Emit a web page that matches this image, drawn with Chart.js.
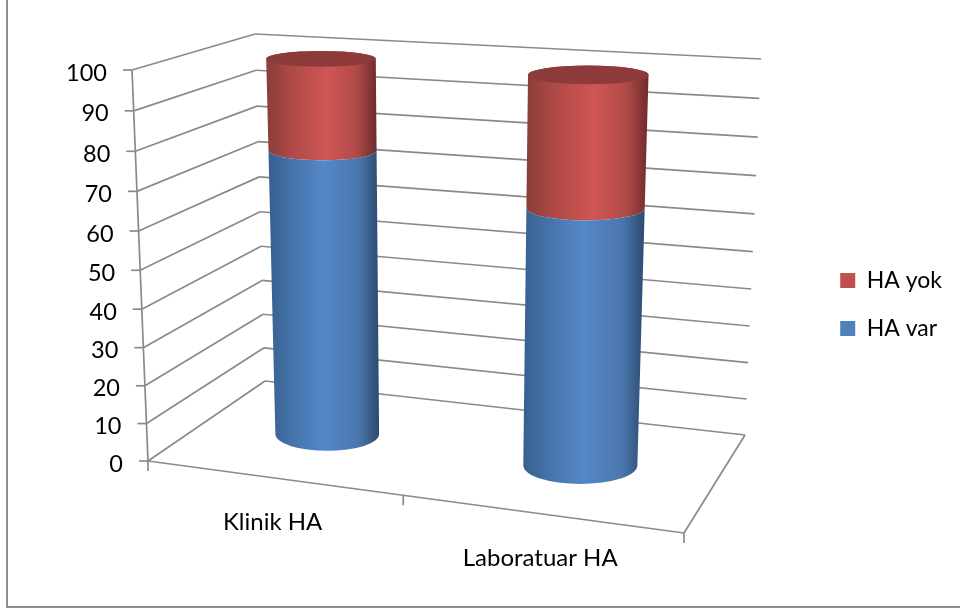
<!DOCTYPE html>
<html>
<head>
<meta charset="utf-8">
<style>
  html, body { margin: 0; padding: 0; background: #fff; }
  canvas { display: block; }
</style>
<script src="https://cdn.jsdelivr.net/npm/chart.js@4"></script>
</head>
<body>
<canvas id="haChart" width="960" height="612"></canvas>
<script>
const categories = ['Klinik HA', 'Laboratuar HA'];
const haVar = [76.5, 67];
const haYok = [23.5, 33];
const valueTicks = [0, 10, 20, 30, 40, 50, 60, 70, 80, 90, 100];

const GRID = '#8a8a8a';

// corners of the 3D box: front/back, bottom/top, left/right
const box = {
  fbl: [148, 461], fbr: [684, 533], bbl: [265, 381], bbr: [745, 435],
  ftl: [132, 70],  ftr: [699, 110], btl: [255, 34],  btr: [761, 59]
};

function mix(a, b, t) {
  return [a[0] + (b[0] - a[0]) * t, a[1] + (b[1] - a[1]) * t];
}

// perspective squeeze along one edge
function squeeze(t, a) {
  return t / (t + (1 - t) * a);
}

// u, v, w in 0..1 -> canvas point
function project(u, v, w) {
  const uu = squeeze(u, 1.1);
  const vv = squeeze(v, 1.05);
  const front = mix(mix(box.fbl, box.fbr, uu), mix(box.ftl, box.ftr, uu), vv);
  const back = mix(mix(box.bbl, box.bbr, uu), mix(box.btl, box.btr, uu), vv);
  return mix(front, back, w);
}

function line(ctx, a, b) {
  ctx.beginPath();
  ctx.moveTo(a[0], a[1]);
  ctx.lineTo(b[0], b[1]);
  ctx.stroke();
}

// one stacked segment drawn as a piece of a cylinder
const BAR_DEPTH = 0.52;
const BAR_RADIUS_W = 0.2;

class CylinderController extends Chart.BarController {
  draw() {
    const chart = this.chart;
    const ctx = chart.ctx;
    const area = chart.chartArea;
    const ds = this.getDataset();
    const toU = x => (x - area.left) / area.width;
    const toV = y => (area.bottom - y) / area.height;

    this.getMeta().data.forEach(bar => {
      const props = bar.getProps(['x', 'y', 'base', 'width'], true);
      const uL = toU(props.x - props.width / 2);
      const uR = toU(props.x + props.width / 2);
      const ring = y => {
        const v = toV(y);
        const l = project(uL, v, BAR_DEPTH);
        const r = project(uR, v, BAR_DEPTH);
        const c = mix(l, r, 0.5);
        const f = project(toU(props.x), v, BAR_DEPTH - BAR_RADIUS_W);
        const b = project(toU(props.x), v, BAR_DEPTH + BAR_RADIUS_W);
        return { x: c[0], y: c[1], rx: (r[0] - l[0]) / 2, ry: Math.abs(f[1] - b[1]) / 2 };
      };
      const top = ring(props.y);
      const bot = ring(props.base);
      const minX = Math.min(top.x - top.rx, bot.x - bot.rx);
      const maxX = Math.max(top.x + top.rx, bot.x + bot.rx);

      const grad = ctx.createLinearGradient(minX, 0, maxX, 0);
      ds.shade.forEach((c, i) => grad.addColorStop(ds.shadeStops[i], c));

      ctx.save();
      ctx.fillStyle = grad;
      ctx.beginPath();
      ctx.moveTo(top.x - top.rx, top.y);
      ctx.lineTo(bot.x - bot.rx, bot.y);
      ctx.ellipse(bot.x, bot.y, bot.rx, bot.ry, 0, Math.PI, 0, true);
      ctx.lineTo(top.x + top.rx, top.y);
      // the lower segment stops at the front arc of the one above it
      ctx.ellipse(top.x, top.y, top.rx, top.ry, 0, 0, Math.PI, !!ds.cap);
      ctx.closePath();
      ctx.fill();
      if (ds.cap) {
        ctx.fillStyle = ds.cap;
        ctx.beginPath();
        ctx.ellipse(top.x, top.y, top.rx, top.ry, 0, 0, Math.PI * 2);
        ctx.fill();
      }
      ctx.restore();
    });
  }
}
CylinderController.id = 'cylinder';
CylinderController.defaults = Chart.BarController.defaults;
Chart.register(CylinderController);

// walls, floor, ticks and axis text
const boxPlugin = {
  id: 'box3d',
  beforeDatasetsDraw(chart) {
    const ctx = chart.ctx;
    const y = chart.scales.y;
    const x = chart.scales.x;
    const area = chart.chartArea;

    ctx.save();
    // outer frame
    ctx.strokeStyle = '#8f8f8f';
    ctx.lineWidth = 2;
    ctx.beginPath();
    ctx.moveTo(7, 0);
    ctx.lineTo(7, 607);
    ctx.lineTo(960, 607);
    ctx.stroke();

    ctx.strokeStyle = GRID;
    ctx.lineWidth = 1.7;
    ctx.font = '23.5px Lato';
    ctx.fillStyle = '#000';
    ctx.textAlign = 'right';
    ctx.textBaseline = 'middle';
    y.ticks.forEach(t => {
      const v = (area.bottom - y.getPixelForValue(t.value)) / area.height;
      const front = project(0, v, 0);
      const corner = project(0, v, 1);
      const end = project(1, v, 1);
      line(ctx, front, corner);
      line(ctx, corner, end);
      line(ctx, [front[0] - 9, front[1]], front);
      ctx.fillText(String(t.value), front[0] - 25, front[1] + 3);
    });
    line(ctx, project(0, 0, 0), project(0, 1, 0));
    line(ctx, project(0, 0, 0), project(1, 0, 0));
    line(ctx, project(1, 0, 0), project(1, 0, 1));

    // category ticks sit between the groups
    [0, 0.5, 1].forEach(u => {
      const p = project(u, 0, 0);
      line(ctx, p, [p[0], p[1] + 10]);
    });

    ctx.font = '24px Lato';
    ctx.textAlign = 'center';
    x.getLabels().forEach((label, i) => {
      const u = (x.getPixelForValue(i) - area.left) / area.width;
      const p = project(u, 0, 0);
      ctx.fillText(label, p[0], p[1] + 45);
    });
    ctx.restore();
  }
};

new Chart(document.getElementById('haChart').getContext('2d'), {
  type: 'cylinder',
  data: {
    labels: categories,
    datasets: [
      {
        label: 'HA var',
        data: haVar,
        backgroundColor: '#4f81bd',
        shade: ['#37608f', '#4674aa', '#5488ca', '#4a76ab', '#2c4a70'],
        shadeStops: [0, 0.22, 0.5, 0.82, 1]
      },
      {
        label: 'HA yok',
        data: haYok,
        backgroundColor: '#c0504d',
        shade: ['#8a3c3a', '#ad4946', '#cf5654', '#b04a47', '#6e2c2b'],
        shadeStops: [0, 0.22, 0.55, 0.82, 1],
        cap: '#8c3b3a'
      }
    ]
  },
  plugins: [boxPlugin],
  options: {
    responsive: false,
    animation: false,
    categoryPercentage: 0.43,
    barPercentage: 1,
    layout: { padding: { right: 8, top: 2, bottom: 5 } },
    scales: {
      x: { display: false, stacked: true },
      y: {
        display: false,
        stacked: true,
        min: 0,
        max: 100,
        afterBuildTicks: scale => { scale.ticks = valueTicks.map(v => ({ value: v })); }
      }
    },
    plugins: {
      tooltip: { enabled: false },
      legend: {
        position: 'right',
        reverse: true,
        labels: {
          font: { family: 'Lato', size: 23 },
          color: '#000',
          boxWidth: 15,
          boxHeight: 15,
          padding: 25
        }
      }
    }
  }
});
</script>
</body>
</html>
